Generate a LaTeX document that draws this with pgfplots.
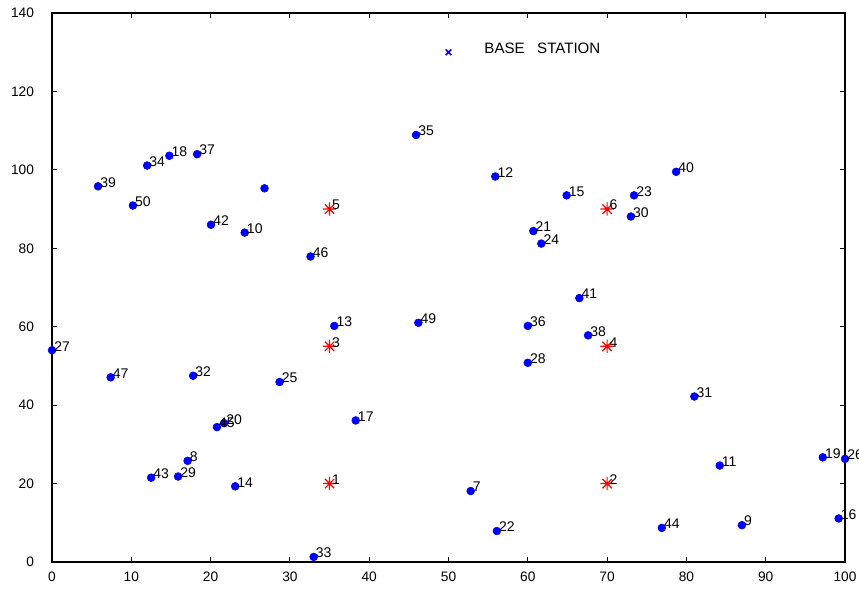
\documentclass[border=0pt]{standalone}
\usepackage{fontspec}
\setmainfont{Liberation Sans}
\usepackage{pgfplots}
\pgfplotsset{compat=1.18}
\pgfdeclareplotmark{mstar}{%
 \pgfpathmoveto{\pgfqpoint{-\pgfplotmarksize}{0pt}}\pgfpathlineto{\pgfqpoint{\pgfplotmarksize}{0pt}}%
 \pgfpathmoveto{\pgfqpoint{0pt}{-\pgfplotmarksize}}\pgfpathlineto{\pgfqpoint{0pt}{\pgfplotmarksize}}%
 \pgfpathmoveto{\pgfqpoint{-0.7\pgfplotmarksize}{-0.7\pgfplotmarksize}}\pgfpathlineto{\pgfqpoint{0.7\pgfplotmarksize}{0.7\pgfplotmarksize}}%
 \pgfpathmoveto{\pgfqpoint{-0.7\pgfplotmarksize}{0.7\pgfplotmarksize}}\pgfpathlineto{\pgfqpoint{0.7\pgfplotmarksize}{-0.7\pgfplotmarksize}}%
 \pgfusepathqstroke}
\pgfplotstableread{
x y label
52.8 18.1 7
17.1 25.8 8
87.0 9.4 9
24.3 84.0 10
84.2 24.6 11
55.9 98.3 12
35.6 60.2 13
23.1 19.3 14
64.9 93.5 15
99.2 11.1 16
38.3 36.1 17
14.8 103.6 18
97.2 26.7 19
21.7 35.4 20
60.7 84.4 21
56.1 7.9 22
73.4 93.5 23
61.7 81.2 24
28.7 45.9 25
100 26.3 26
0 54.0 27
60.0 50.8 28
15.9 21.8 29
73.0 88.1 30
81.0 42.2 31
17.8 47.5 32
33.0 1.3 33
12.0 101.1 34
45.9 108.9 35
60.0 60.2 36
18.3 104.0 37
67.6 57.8 38
5.8 95.8 39
78.7 99.5 40
66.5 67.3 41
20.05 86.0 42
12.5 21.5 43
76.9 8.7 44
20.8 34.4 45
32.6 77.9 46
7.4 47.1 47
46.2 61.0 49
10.2 90.9 50
}\nodes
\pgfplotstableread{
x y label
35 20 1
70 20 2
35 55 3
70 55 4
35 90 5
70 90 6
}\heads
\begin{document}
\begin{tikzpicture}
\useasboundingbox (-39pt,-21pt) rectangle (605.25pt,421.5pt);
\begin{axis}[
  scale only axis, width=594.75pt, height=411.75pt,
  xmin=0, xmax=100, ymin=0, ymax=140,
  xtick={0,10,...,100}, ytick={0,20,...,140},
  tick align=inside, major tick length=3.75pt,
  axis line style={line width=1pt},
  every tick/.style={line width=0.8pt, black},
  clip=false,
  /pgf/number format/assume math mode=true,
  ticklabel style={font=\fontsize{10.3}{12}\selectfont},
  yticklabel style={xshift=-10pt},
  xticklabel style={yshift=-4pt},
  nodes near coords style={anchor=west, inner sep=0pt, xshift=1.5pt, yshift=3pt, text=black, font=\fontsize{10.5}{12}\selectfont},
]
\addplot[only marks, mark=*, blue, mark size=2.95pt, nodes near coords, point meta=explicit symbolic] table[meta=label] {\nodes};
\addplot[only marks, mark=*, blue, mark size=2.95pt] coordinates {(26.8,95.3)};
\addplot[only marks, mark=mstar, red, mark size=5pt, line width=0.9pt, nodes near coords, point meta=explicit symbolic] table[meta=label] {\heads};
\addplot[only marks, mark=x, blue, mark size=3pt, line width=1.2pt] coordinates {(50,130)};
\node[anchor=west, inner sep=0pt, font=\fontsize{11.3}{13}\selectfont] at (axis cs:54.5,131.1) {BASE\ \ \ STATION};
\end{axis}
\end{tikzpicture}
\end{document}
